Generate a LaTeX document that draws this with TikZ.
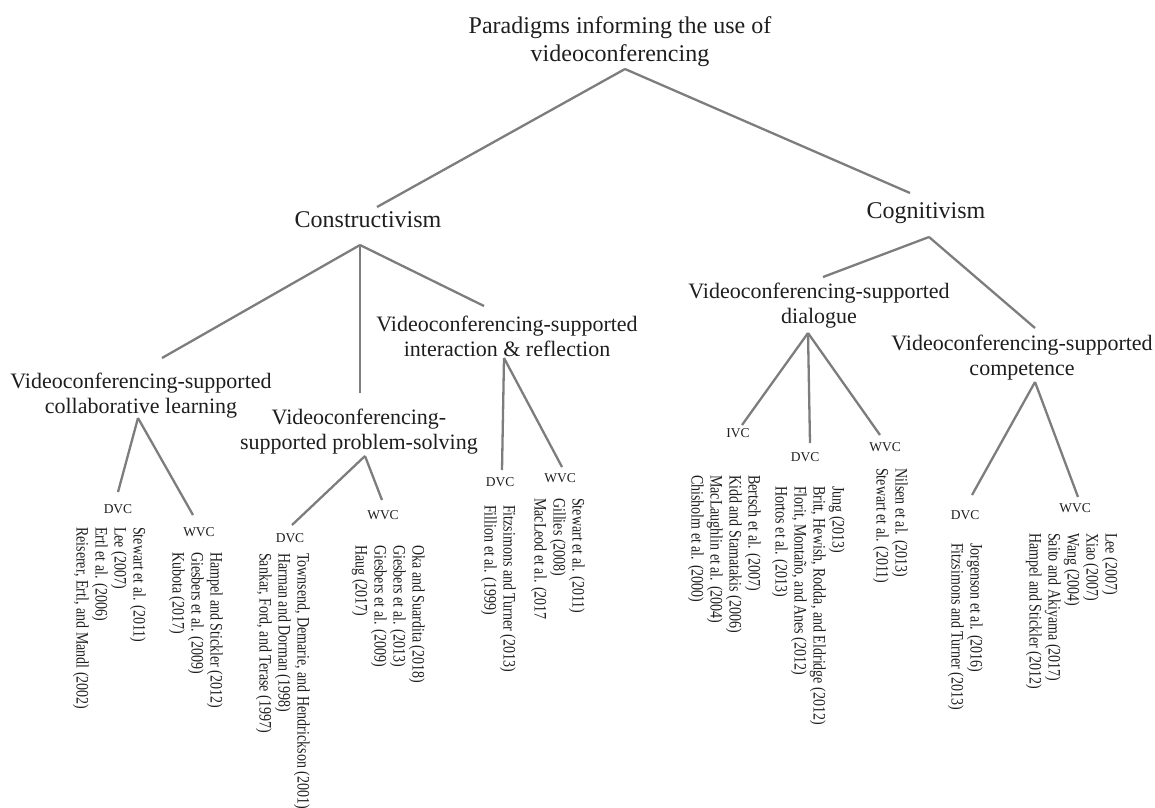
\documentclass[tikz,border=0pt]{standalone}
\usepackage{fontspec}
\setmainfont{Liberation Serif}
\newfontfamily\citefont[FakeStretch=0.8]{Liberation Serif}
\usetikzlibrary{calc}
\definecolor{linkgray}{RGB}{125,125,125}
\definecolor{txt}{RGB}{30,30,30}
\tikzset{
 head/.style={inner sep=0pt, align=center, text=txt, font=\fontsize{24}{28}\selectfont},
 sub/.style={inner sep=0pt, align=center, text=txt, font=\fontsize{22}{25}\selectfont},
 vc/.style={inner sep=0pt, text=txt, font=\fontsize{13.5}{16}\selectfont},
 cites/.style={inner sep=0pt, align=left, text=txt, rotate=-90, anchor=north west, font=\citefont\fontsize{17.5}{19}\selectfont},
 link/.style={draw=linkgray, line width=2.3pt},
}
\begin{document}
\begin{tikzpicture}[x=1pt,y=-1pt]
\useasboundingbox (0,0) rectangle (1155,807);
% level 0-1
\node[head] (root) at (620,42) {Paradigms informing the use of\\videoconferencing};
\node[head] (cons) at (368,220) {Constructivism};
\node[head] (cog) at (926,213) {Cognitivism};
% level 2
\node[sub] (collab) at (141,396) {Videoconferencing-supported\\collaborative learning};
\node[sub] (prob) at (359,432) {Videoconferencing-\\supported problem-solving};
\node[sub] (inter) at (507,336) {Videoconferencing-supported\\interaction \& reflection};
\node[sub] (dial) at (819,306) {Videoconferencing-supported\\dialogue};
\node[sub] (comp) at (1022,358) {Videoconferencing-supported\\competence};
% level 3 labels
\node[vc] (cDVC) at (118,509) {DVC};
\node[vc] (cWVC) at (199,532) {WVC};
\node[vc] (pDVC) at (290,538) {DVC};
\node[vc] (pWVC) at (383,515) {WVC};
\node[vc] (iDVC) at (500,482) {DVC};
\node[vc] (iWVC) at (560,478) {WVC};
\node[vc] (dIVC) at (738,433) {IVC};
\node[vc] (dDVC) at (805,457) {DVC};
\node[vc] (dWVC) at (885,447) {WVC};
\node[vc] (mDVC) at (965,515) {DVC};
\node[vc] (mWVC) at (1075,508) {WVC};
% citations
\node[cites] (cDVCc) at (146,527) {Stewart et al. (2011)\\Lee (2007)\\Ertl et al. (2006)\\Reiserer, Ertl, and Mandl (2002)};
\node[cites] (cWVCc) at (223,552) {Hampel and Stickler (2012)\\Giesbers et al. (2009)\\Kubota (2017)};
\node[cites] (pDVCc) at (310,553) {Townsend, Demarie, and Hendrickson (2001)\\Harman and Dorman (1998)\\Sankar, Ford, and Terase (1997)};
\node[cites] (pWVCc) at (425,545) {Oka and Suardita (2018)\\Giesbers et al. (2013)\\Giesbers et al. (2009)\\Haug (2017)};
\node[cites] (iDVCc) at (516,505) {Fitzsimons and Turner (2013)\\Fillion et al. (1999)};
\node[cites] (iWVCc) at (585,498) {Stewart et al. (2011)\\Gillies (2008)\\MacLeod et al. (2017};
\node[cites] (dIVCc) at (761,475) {Bertsch et al. (2007)\\Kidd and Stamatakis (2006)\\MacLaughlin et al. (2004)\\Chisholm et al. (2000)};
\node[cites] (dDVCc) at (845,486) {Jung (2013)\\Britt, Hewish, Rodda, and Eldridge (2012)\\Florit, Montaño, and Anes (2012)\\Hortos et al. (2013)};
\node[cites] (dWVCc) at (908,468) {Nilsen et al. (2013)\\Stewart et al. (2011)};
\node[cites] (mDVCc) at (983,543) {Jorgenson et al. (2016)\\Fitzsimons and Turner (2013)};
\node[cites] (mWVCc) at (1118,533) {Lee (2007)\\Xiao (2007)\\Wang (2004)\\Saito and Akiyama (2017)\\Hampel and Stickler (2012)};
% connectors
\draw[link] ($(root)+(5,27)$) -- ($(cons)+(9,-13)$);
\draw[link] ($(root)+(5,27)$) -- ($(cog)+(-16,-20)$);
\draw[link] ($(cons)+(-8,25)$) -- ($(collab)+(21,-38)$);
\draw[link] ($(cons)+(-8,25)$) -- ($(prob)+(1,-39)$);
\draw[link] ($(cons)+(-8,25)$) -- ($(inter)+(-23,-30)$);
\draw[link] ($(cog)+(3,24)$) -- ($(dial)+(4,-29)$);
\draw[link] ($(cog)+(3,24)$) -- ($(comp)+(13,-30)$);
\draw[link] ($(collab)+(-3,22)$) -- ($(cDVC)+(0,-17)$);
\draw[link] ($(collab)+(-3,22)$) -- ($(cWVC)+(-6,-17)$);
\draw[link] ($(prob)+(6,24)$) -- ($(pDVC)+(2,-13)$);
\draw[link] ($(prob)+(6,24)$) -- ($(pWVC)+(-1,-15)$);
\draw[link] ($(inter)+(-3,22)$) -- ($(iDVC)+(2,-12)$);
\draw[link] ($(inter)+(-3,22)$) -- ($(iWVC)+(2,-11)$);
\draw[link] ($(dial)+(-11,27)$) -- ($(dIVC)+(4,-8)$);
\draw[link] ($(dial)+(-11,27)$) -- ($(dDVC)+(5,-14)$);
\draw[link] ($(dial)+(-11,27)$) -- ($(dWVC)+(-5,-12)$);
\draw[link] ($(comp)+(13,24)$) -- ($(mDVC)+(7,-20)$);
\draw[link] ($(comp)+(13,24)$) -- ($(mWVC)+(3,-11)$);
\end{tikzpicture}
\end{document}
